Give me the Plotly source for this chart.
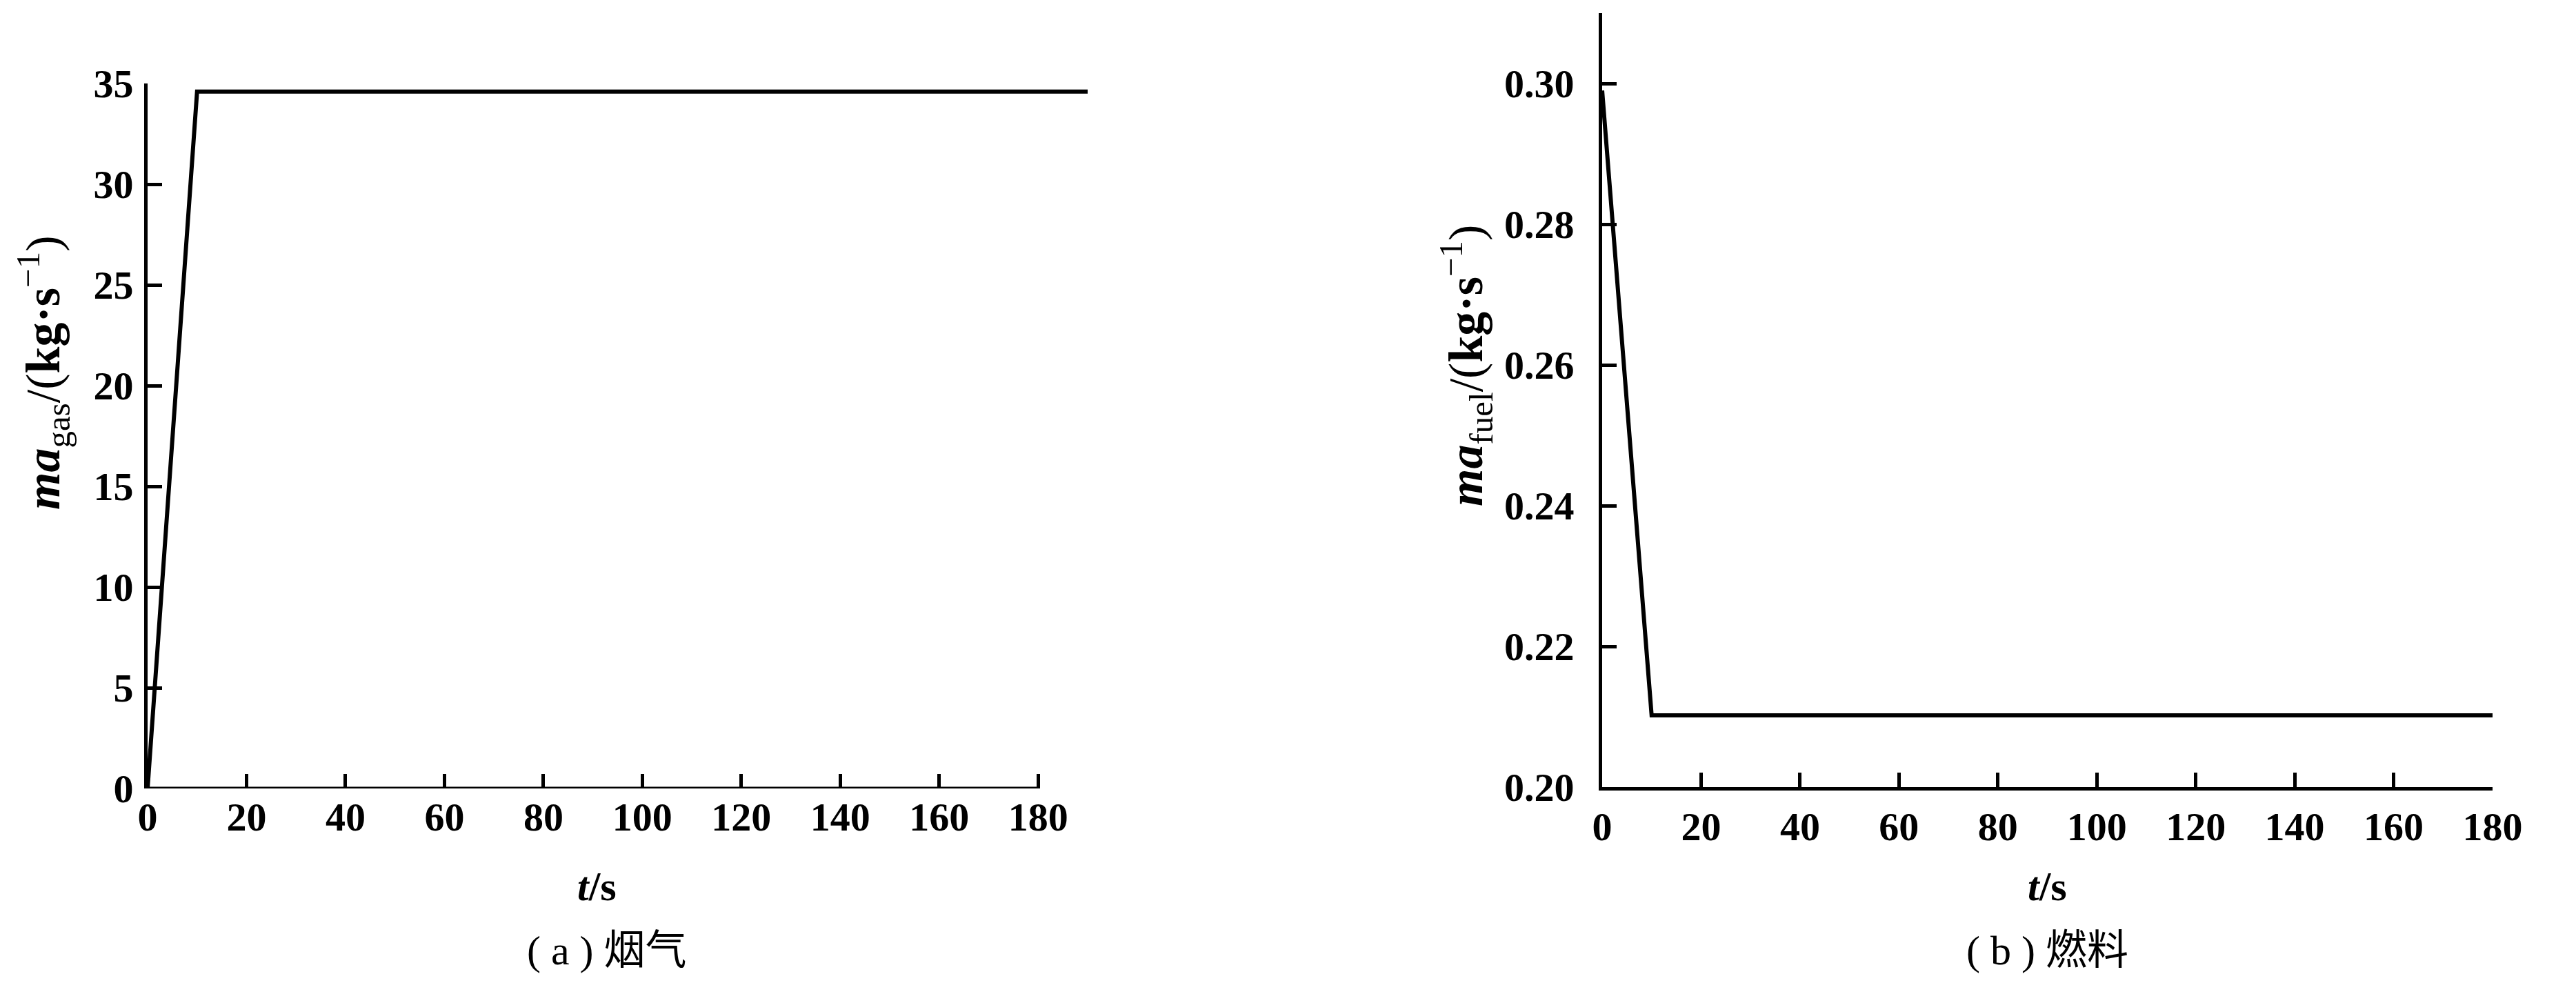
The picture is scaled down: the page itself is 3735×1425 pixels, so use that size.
import plotly.graph_objects as go

# Data
t_gas = [0, 10, 190]
ma_gas = [0, 34.6, 34.6]
t_fuel = [0, 10, 180]
ma_fuel = [0.299, 0.2102, 0.2102]

x_ticks = [0, 20, 40, 60, 80, 100, 120, 140, 160, 180]
y_ticks_gas = [0, 5, 10, 15, 20, 25, 30, 35]
y_ticks_fuel = [0.20, 0.22, 0.24, 0.26, 0.28, 0.30]

W, H = 3735, 1425
OFF = 8  # page body margin
BLACK = "#000000"
tickfont = dict(family="Liberation Serif", size=58, color=BLACK, weight="bold")
lw = 6

fig = go.Figure()
fig.add_trace(go.Scatter(x=t_gas, y=ma_gas, mode="lines", line=dict(color=BLACK, width=lw),
                         xaxis="x", yaxis="y", showlegend=False))
fig.add_trace(go.Scatter(x=t_fuel, y=ma_fuel, mode="lines", line=dict(color=BLACK, width=lw),
                         xaxis="x2", yaxis="y2", showlegend=False))

def px_x(p):
    return (p - OFF) / W

def px_y(p):
    return (H - (p - OFF)) / H

common = dict(showgrid=False, zeroline=False, ticks="inside", ticklen=21, tickwidth=5,
              tickcolor=BLACK, tickfont=tickfont, linecolor=BLACK, linewidth=5,
              automargin=False)

fig.update_layout(
    width=W, height=H, margin=dict(l=0, r=0, t=0, b=0, autoexpand=False),
    paper_bgcolor="white", plot_bgcolor="white",
    xaxis=dict(domain=[px_x(214), px_x(1577)], range=[0, 190], tickvals=x_ticks,
               showline=False, anchor="y", ticklabelstandoff=2, **common),
    yaxis=dict(domain=[px_y(1143), px_y(121)], range=[0, 35], tickvals=y_ticks_gas,
               showline=True, anchor="x", ticklabelstandoff=4, **common),
    xaxis2=dict(domain=[px_x(2323), px_x(3614)], range=[0, 180], tickvals=x_ticks,
                showline=True, anchor="y2", ticklabelstandoff=2, **common),
    yaxis2=dict(domain=[px_y(1141), px_y(19)], range=[0.20, 0.31], tickvals=y_ticks_fuel,
                tickformat=".2f", showline=True, anchor="x2", ticklabelstandoff=24, **common),
)

# x-axis line of left panel stops at t = 180
fig.add_shape(type="line", xref="x", yref="y", x0=0, x1=x_ticks[-1], y0=0, y1=0,
              line=dict(color=BLACK, width=5))

title_font = dict(family="Liberation Serif", size=70, color=BLACK)
xt_font = dict(family="Liberation Serif", size=60, color=BLACK)
cap_font = dict(family="Liberation Serif, Noto Sans CJK SC", size=60, color=BLACK)

ann = [
    dict(text="<b><i>ma</i></b><sub>gas</sub>/(<b>kg·s</b><sup>−1</sup>)", x=px_x(62), y=px_y(540),
         textangle=-90, font=title_font),
    dict(text="<b><i>ma</i></b><sub>fuel</sub>/(<b>kg·s</b><sup>−1</sup>)", x=px_x(2125), y=px_y(530),
         textangle=-90, font=title_font),
    dict(text="<b><i>t</i>/s</b>", x=px_x(865), y=px_y(1285), font=xt_font),
    dict(text="<b><i>t</i>/s</b>", x=px_x(2968), y=px_y(1285), font=xt_font),
    dict(text="( a ) 烟气", x=px_x(880), y=px_y(1378), font=cap_font),
    dict(text="( b ) 燃料", x=px_x(2968), y=px_y(1378), font=cap_font),
]
for a in ann:
    fig.add_annotation(xref="paper", yref="paper", showarrow=False,
                       xanchor="center", yanchor="middle", **a)

fig.write_html("out.html")
